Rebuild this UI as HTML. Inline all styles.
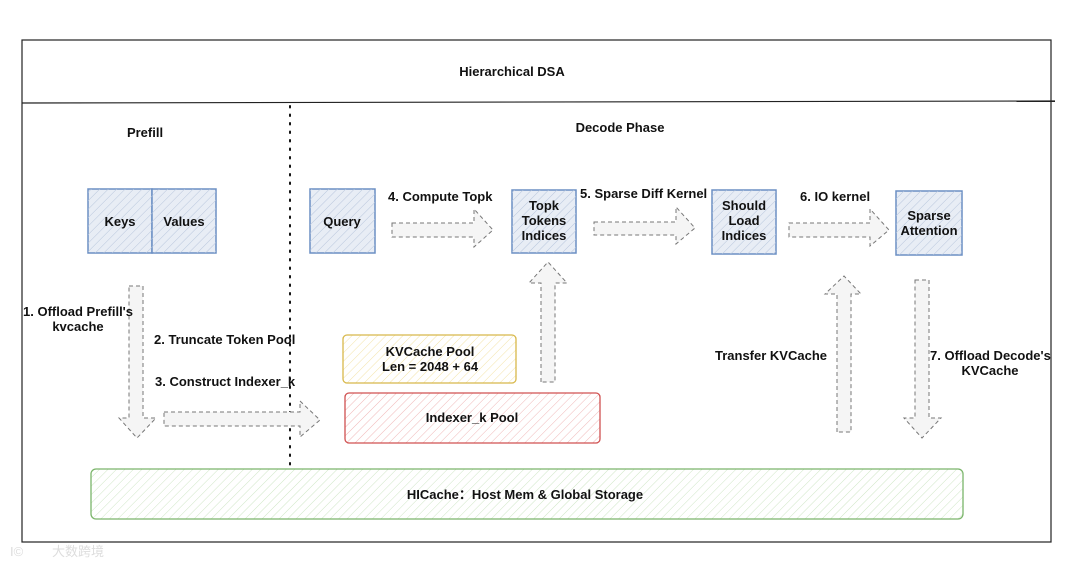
<!DOCTYPE html>
<html><head><meta charset="utf-8"><style>
html,body{margin:0;padding:0;background:#fff;width:1080px;height:566px;overflow:hidden}
text{font-family:"Liberation Sans",Arial,sans-serif;font-weight:bold;fill:#111;font-size:13px}
</style></head><body>
<svg width="1080" height="566" viewBox="0 0 1080 566" xmlns="http://www.w3.org/2000/svg">
<defs>
<pattern id="hb" width="6" height="6" patternUnits="userSpaceOnUse" patternTransform="rotate(45)"><line x1="0" y1="0" x2="0" y2="6" stroke="#b8c6dc" stroke-width="1"/></pattern>
<pattern id="hy" width="6" height="6" patternUnits="userSpaceOnUse" patternTransform="rotate(45)"><line x1="0" y1="0" x2="0" y2="6" stroke="#f3e3a8" stroke-width="1"/></pattern>
<pattern id="hr" width="6" height="6" patternUnits="userSpaceOnUse" patternTransform="rotate(45)"><line x1="0" y1="0" x2="0" y2="6" stroke="#f0b8b8" stroke-width="1"/></pattern>
<pattern id="hg" width="6" height="6" patternUnits="userSpaceOnUse" patternTransform="rotate(45)"><line x1="0" y1="0" x2="0" y2="6" stroke="#cfe6c6" stroke-width="1"/></pattern>
</defs>
<rect x="22" y="40" width="1029" height="502" fill="none" stroke="#222" stroke-width="1.2"/>
<line x1="22" y1="103" x2="1055" y2="101" stroke="#222" stroke-width="1.2"/>
<line x1="290" y1="106" x2="290" y2="470" stroke="#111" stroke-width="2" stroke-dasharray="1.5 7" stroke-linecap="round"/>
<text x="512" y="76" text-anchor="middle" font-size="15">Hierarchical DSA</text>
<text x="145" y="137" text-anchor="middle" font-size="14">Prefill</text>
<text x="620" y="132" text-anchor="middle" font-size="14">Decode Phase</text>

<g stroke="#6b8fc4" stroke-width="1.5" fill="#e8edf5">
<rect x="88" y="189" width="64" height="64"/><rect x="152" y="189" width="64" height="64"/>
<rect x="310" y="189" width="65" height="64"/><rect x="512" y="190" width="64" height="63"/>
<rect x="712" y="190" width="64" height="64"/><rect x="896" y="191" width="66" height="64"/>
</g>
<g fill="url(#hb)">
<rect x="88" y="189" width="128" height="64"/><rect x="310" y="189" width="65" height="64"/><rect x="512" y="190" width="64" height="63"/><rect x="712" y="190" width="64" height="64"/><rect x="896" y="191" width="66" height="64"/>
</g>
<text x="120" y="226" text-anchor="middle">Keys</text>
<text x="184" y="226" text-anchor="middle">Values</text>
<text x="342" y="226" text-anchor="middle">Query</text>
<text x="544" y="210" text-anchor="middle">Topk</text><text x="544" y="225" text-anchor="middle">Tokens</text><text x="544" y="240" text-anchor="middle">Indices</text>
<text x="744" y="210" text-anchor="middle">Should</text><text x="744" y="225" text-anchor="middle">Load</text><text x="744" y="240" text-anchor="middle">Indices</text>
<text x="929" y="220" text-anchor="middle">Sparse</text><text x="929" y="235" text-anchor="middle">Attention</text>

<g fill="#f5f5f5" stroke="#777" stroke-width="1" stroke-dasharray="4 3">
<path d="M392 223 H474 V209 L493 230 L474 247 V237 H392 Z"/>
<path d="M594 222 H676 V207 L695 228 L676 244 V235 H594 Z"/>
<path d="M789 223 H870 V209 L889 230 L870 246 V237 H789 Z"/>
<path d="M164 412 H300 V401 L320 420 L300 437 V426 H164 Z"/>
<path d="M541 382 V283 H529 L548 262 L567 283 H555 V382 Z"/>
<path d="M129 286 H143 V418 H156 L137 438 L119 418 H129 Z"/>
<path d="M837 432 V294 H825 L844 276 L861 294 H851 V432 Z"/>
<path d="M915 280 H929 V418 H941 L922 438 L904 418 H915 Z"/>
</g>

<text x="23" y="316">1. Offload Prefill's</text>
<text x="78" y="331" text-anchor="middle">kvcache</text>
<text x="154" y="344">2. Truncate Token Pool</text>
<text x="155" y="386">3. Construct Indexer_k</text>
<text x="388" y="201">4. Compute Topk</text>
<text x="580" y="198">5. Sparse Diff Kernel</text>
<text x="800" y="201">6. IO kernel</text>
<text x="715" y="360">Transfer KVCache</text>
<text x="930" y="360">7. Offload Decode's</text>
<text x="990" y="375" text-anchor="middle">KVCache</text>

<rect x="343" y="335" width="173" height="48" rx="4" fill="url(#hy)" stroke="#d8b84a" stroke-width="1.3"/>
<text x="430" y="356" text-anchor="middle">KVCache Pool</text>
<text x="430" y="371" text-anchor="middle">Len = 2048 + 64</text>
<rect x="345" y="393" width="255" height="50" rx="4" fill="url(#hr)" stroke="#d05050" stroke-width="1.3"/>
<text x="472" y="422" text-anchor="middle">Indexer_k Pool</text>
<rect x="91" y="469" width="872" height="50" rx="5" fill="url(#hg)" stroke="#7ab56a" stroke-width="1.3"/>
<text x="525" y="499" text-anchor="middle" font-size="14">HICache：Host Mem &amp; Global Storage</text>
<text x="10" y="556" font-size="22" style="fill:#ddd;font-weight:normal">I©</text>
<text x="52" y="556" font-size="22" style="fill:#ddd;font-family:'Noto Sans CJK SC',sans-serif;font-weight:normal">大数跨境</text>
</svg>
</body></html>
